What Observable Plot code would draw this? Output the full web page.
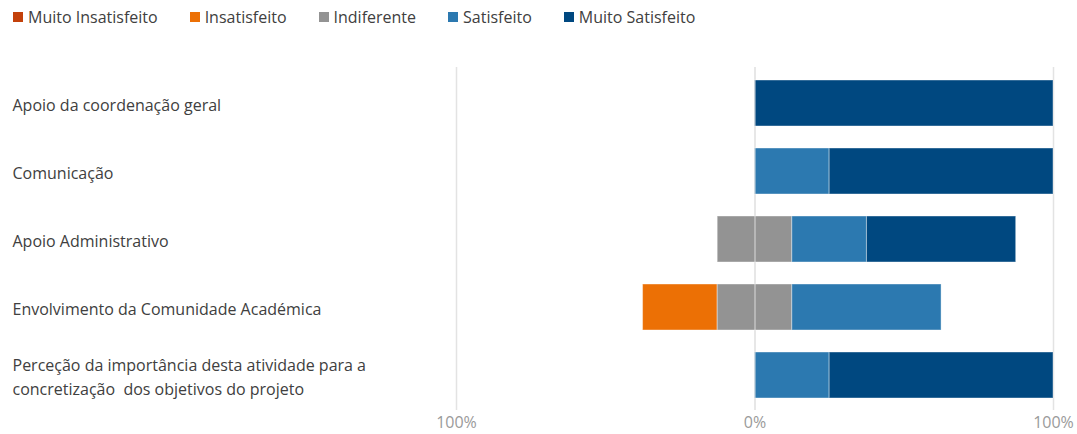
<!DOCTYPE html>
<html>
<head>
<meta charset="utf-8">
<script src="https://cdn.jsdelivr.net/npm/d3@7"></script>
<script src="https://cdn.jsdelivr.net/npm/@observablehq/plot@0.6"></script>
<style>
  html, body { margin: 0; padding: 0; background: #fff; }
  body { width: 1077px; height: 434px; overflow: hidden; font-family: "Open Sans", sans-serif; }
  #legend { height: 34px; display: flex; align-items: center; padding-left: 13px; font-size: 16px; color: #404040; }
  .item { display: flex; align-items: center; margin-right: 32px; }
  .sw { width: 10px; height: 10px; margin-right: 5px; }
</style>
</head>
<body>
<div id="legend"></div>
<div id="chart"></div>
<script>
const categories = [
  "Apoio da coordenação geral",
  "Comunicação",
  "Apoio Administrativo",
  "Envolvimento da Comunidade Académica",
  "Perceção da importância desta atividade para a\nconcretização  dos objetivos do projeto"
];
const series = ["Muito Insatisfeito", "Insatisfeito", "Indiferente", "Satisfeito", "Muito Satisfeito"];
const colors = ["#C3410B", "#EC7005", "#939393", "#2C79B0", "#004880"];
const muitoInsatisfeito = [0, 0, 0, 0, 0];
const insatisfeito = [0, 0, 0, 25, 0];
const indiferente = [0, 0, 25, 25, 0];
const satisfeito = [0, 25, 25, 50, 25];
const muitoSatisfeito = [100, 75, 50, 0, 75];
const tickValues = [-100, 0, 100];
const tickLabels = ["100%", "0%", "100%"];

const values = [muitoInsatisfeito, insatisfeito, indiferente, satisfeito, muitoSatisfeito];
const rows = [];
categories.forEach((cat, i) => {
  let start = -(muitoInsatisfeito[i] + insatisfeito[i] + indiferente[i] / 2);
  series.forEach((s, j) => {
    const v = values[j][i];
    if (v > 0) rows.push({cat, series: s, x1: start, x2: start + v});
    start += v;
  });
});

const legend = document.getElementById("legend");
series.forEach((s, j) => {
  const it = document.createElement("div");
  it.className = "item";
  it.innerHTML = `<div class="sw" style="background:${colors[j]}"></div><span>${s}</span>`;
  legend.appendChild(it);
});

const chart = Plot.plot({
  width: 1077,
  height: 400,
  marginLeft: 456,
  marginRight: 24,
  marginTop: 33,
  marginBottom: 24,
  style: {fontFamily: "Open Sans, sans-serif", background: "#fff"},
  x: {domain: [-100, 100]},
  y: {domain: categories, paddingInner: 0.33, paddingOuter: 0.165},
  color: {domain: series, range: colors},
  marks: [
    Plot.ruleX(tickValues, {stroke: "#e3e3e3", strokeWidth: 1.5}),
    Plot.barX(rows, {y: "cat", x1: "x1", x2: "x2", fill: "series", stroke: "#ffffff", strokeOpacity: 0.4, strokeWidth: 1}),
    Plot.ruleX([0], {stroke: "#e3e3e3", strokeWidth: 1.5, strokeOpacity: 0.6}),
    Plot.axisX({ticks: tickValues, tickFormat: (d, i) => tickLabels[i], tickSize: 0, tickPadding: 6, fontSize: 16, fill: "#9a9a9a", label: null}),
    Plot.axisY({tickSize: 0, textAnchor: "start", dx: -444, tickPadding: 0, fontSize: 16, fill: "#404040", lineHeight: 1.5, label: null})
  ]
});
document.getElementById("chart").appendChild(chart);
</script>
</body>
</html>
